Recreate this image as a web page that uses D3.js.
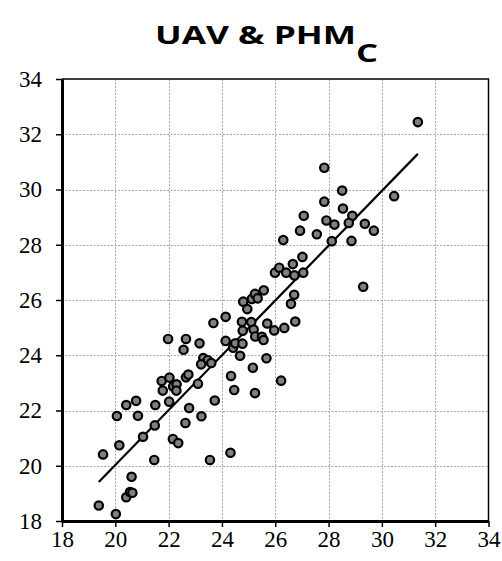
<!DOCTYPE html>
<html>
<head>
<meta charset="utf-8">
<script src="https://cdn.jsdelivr.net/npm/d3@7"></script>
<style>
  html, body { margin: 0; padding: 0; background: #fff; }
  svg { display: block; }
  .axis text { font-family: "Liberation Serif", "Times New Roman", serif; font-size: 23px; fill: #000; }
</style>
</head>
<body>
<svg id="chart" width="502" height="561"></svg>
<script>
// UAV-derived height (x) against PHM_C height (y)
const uavValues = [
  19.38, 20.02, 19.54, 20.41, 20.55, 20.64, 20.61, 20.15, 20.06, 20.41,
  20.78, 20.85, 21.04, 21.48, 21.46, 21.50, 21.74, 21.78, 21.98, 22.03,
  22.02, 22.17, 22.30, 22.29, 22.16, 22.36, 22.56, 22.65, 22.65, 22.74,
  22.77, 22.63, 23.10, 23.16, 23.23, 23.30, 23.47, 23.22, 23.60, 23.55,
  23.68, 23.73, 24.14, 24.14, 24.34, 24.46, 24.32, 24.42, 24.50, 24.68,
  24.77, 24.75, 24.78, 24.80, 24.95, 25.10, 25.19, 25.25, 25.16, 25.24,
  25.50, 25.56, 25.67, 25.70, 25.96, 26.22, 26.34, 26.75, 25.12, 25.24,
  25.34, 25.57, 25.99, 26.15, 26.41, 26.66, 26.72, 27.05, 26.71, 26.59,
  26.30, 26.93, 27.56, 27.02, 27.84, 28.51, 27.84, 30.46, 28.54, 27.07,
  27.92, 28.22, 28.89, 28.76, 29.36, 29.70, 28.12, 28.86, 29.30, 31.35
];
const phmValues = [
  18.56, 18.25, 20.41, 18.86, 19.05, 19.02, 19.60, 20.74, 21.80, 22.20,
  22.35, 21.81, 21.05, 21.46, 20.21, 22.20, 23.07, 22.72, 24.59, 23.19,
  22.32, 22.87, 22.95, 22.72, 20.97, 20.82, 24.20, 24.59, 23.20, 23.30,
  22.09, 21.55, 22.97, 24.43, 21.79, 23.90, 23.82, 23.67, 23.72, 20.21,
  25.17, 22.36, 25.39, 24.52, 23.25, 22.74, 20.47, 24.27, 24.43, 23.98,
  24.42, 25.21, 24.89, 25.94, 25.67, 25.20, 24.93, 24.68, 23.55, 22.63,
  24.67, 24.55, 23.89, 25.15, 24.90, 23.08, 24.99, 25.22, 26.04, 26.22,
  26.06, 26.35, 26.99, 27.17, 26.99, 27.30, 26.89, 26.99, 26.19, 25.86,
  28.17, 28.51, 28.38, 27.56, 30.79, 29.96, 29.56, 29.76, 29.31, 29.05,
  28.88, 28.73, 29.05, 28.79, 28.76, 28.51, 28.13, 28.14, 26.48, 32.44
];

// Linear trend y = slope * x + intercept, drawn across the x range of the data
const trendSlope = 0.992;
const trendIntercept = 0.19;

const axisTicks = [18, 20, 22, 24, 26, 28, 30, 32, 34];
const gridTicks = [20, 22, 24, 26, 28, 30, 32];

const svg = d3.select("#chart");
const plotLeft = 62, plotRight = 488.5, plotTop = 79, plotBottom = 521;

const x = d3.scaleLinear().domain([18, 34]).range([plotLeft, plotRight]);
const y = d3.scaleLinear().domain([18, 34]).range([plotBottom, plotTop]);

svg.append("rect").attr("width", 502).attr("height", 561).attr("fill", "#fff");

// Title: main part plus subscript C, each fitted to its width
const titleFont = "'Open Sans', 'Noto Sans', sans-serif";
svg.append("text")
  .attr("x", 155).attr("y", 43.5)
  .attr("font-family", titleFont).attr("font-weight", 700).attr("font-size", 25.5)
  .attr("textLength", 201).attr("lengthAdjust", "spacingAndGlyphs")
  .attr("fill", "#000")
  .text("UAV & PHM");
svg.append("text")
  .attr("x", 356).attr("y", 61.5)
  .attr("font-family", titleFont).attr("font-weight", 700).attr("font-size", 25.5)
  .attr("textLength", 22).attr("lengthAdjust", "spacingAndGlyphs")
  .attr("fill", "#000")
  .text("C");

// Dotted grid
const grid = svg.append("g").attr("stroke", "#a6a6a6").attr("stroke-width", 1)
  .attr("stroke-dasharray", "2,1.5");
grid.selectAll("line.v").data(gridTicks).join("line").attr("class", "v")
  .attr("x1", d => Math.round(x(d)) + 0.5).attr("x2", d => Math.round(x(d)) + 0.5)
  .attr("y1", plotTop).attr("y2", plotBottom);
grid.selectAll("line.h").data(gridTicks).join("line").attr("class", "h")
  .attr("y1", d => Math.round(y(d)) + 0.5).attr("y2", d => Math.round(y(d)) + 0.5)
  .attr("x1", plotLeft).attr("x2", plotRight);

// Frame (top and right)
svg.append("path")
  .attr("d", `M${plotLeft},${plotTop}H${plotRight}V${plotBottom}`)
  .attr("fill", "none").attr("stroke", "#000").attr("stroke-width", 1.5);

// Axes
const yAxis = svg.append("g").attr("class", "axis").attr("transform", `translate(${plotLeft},0)`)
  .call(d3.axisLeft(y).tickValues(axisTicks).tickSize(6).tickPadding(14).tickSizeOuter(0));
const xAxis = svg.append("g").attr("class", "axis").attr("transform", `translate(0,${plotBottom})`)
  .call(d3.axisBottom(x).tickValues(axisTicks).tickSize(6).tickPadding(4).tickSizeOuter(0));
[xAxis, yAxis].forEach(g => {
  g.attr("font-family", null).attr("font-size", null);
  g.select(".domain").attr("stroke", "#000").attr("stroke-width", 3);
  g.selectAll(".tick line").attr("stroke", "#000").attr("stroke-width", 1.5);
});

// Trend line
const xMin = d3.min(uavValues), xMax = d3.max(uavValues);
svg.append("line")
  .attr("x1", x(xMin)).attr("y1", y(trendSlope * xMin + trendIntercept))
  .attr("x2", x(xMax)).attr("y2", y(trendSlope * xMax + trendIntercept))
  .attr("stroke", "#000").attr("stroke-width", 2.2);

// Points
const pts = uavValues.map((v, i) => ({ u: v, p: phmValues[i] }));
svg.append("g").selectAll("circle").data(pts).join("circle")
  .attr("cx", d => x(d.u)).attr("cy", d => y(d.p))
  .attr("r", 4.2)
  .attr("fill", "#808080").attr("stroke", "#000").attr("stroke-width", 2.2);
</script>
</body>
</html>
